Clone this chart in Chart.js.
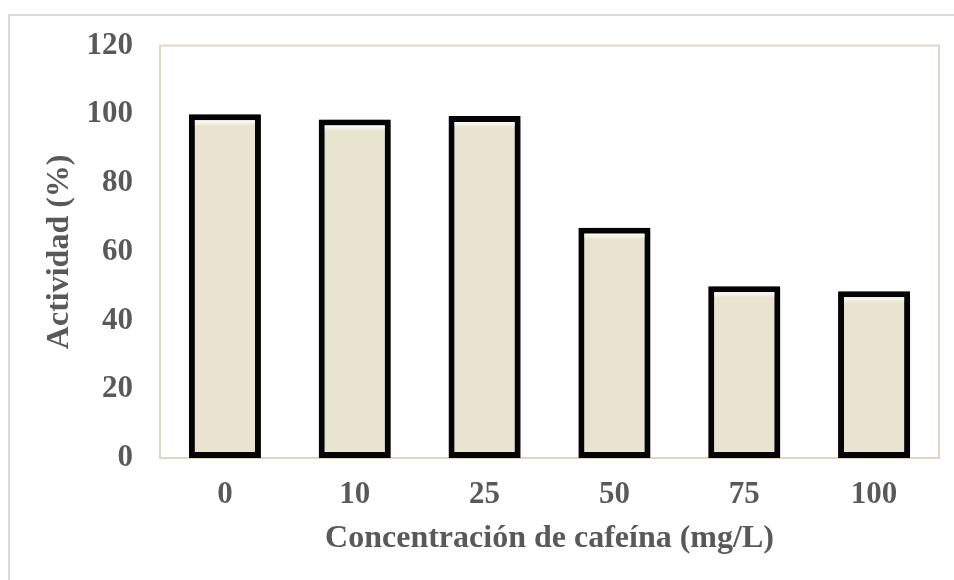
<!DOCTYPE html>
<html>
<head>
<meta charset="utf-8">
<title>Actividad vs cafeína</title>
<script src="https://cdn.jsdelivr.net/npm/chart.js@4/dist/chart.umd.min.js"></script>
<style>
html,body{margin:0;padding:0;background:#fff;overflow:hidden}
#wrap{position:relative;width:954px;height:580px}
</style>
</head>
<body>
<div id="wrap"><canvas id="cafChart" width="954" height="580"></canvas></div>
<script>

/* =========================
   DATA
========================= */

const concentraciones = ["0","10","25","50","75","100"]
const actividad = [100,98.5,99.5,67,50,48.5]
const yTicks = [0,20,40,60,80,100,120]

const txtColor = "#595959"
const fontFam = "'Liberation Serif','Times New Roman',serif"


/* =========================
   FRAMES (outer + plot area)
========================= */

const framePlugin = {

id:"frames",

beforeDraw(chart){
const ctx = chart.ctx
ctx.save()
ctx.fillStyle = "#fff"
ctx.fillRect(0,0,chart.width,chart.height)
ctx.strokeStyle = "#d9d9d9"
ctx.lineWidth = 2
ctx.strokeRect(9,15,1200,1200)
ctx.restore()
},

beforeDatasetsDraw(chart){
const a = chart.chartArea
const ctx = chart.ctx
ctx.save()
ctx.strokeStyle = "#ddd8c4"
ctx.lineWidth = 2
ctx.strokeRect(a.left,a.top,a.right-a.left,a.bottom-a.top)
ctx.restore()

/* soft shadow round the bars, undone after they are drawn */
ctx.save()
ctx.shadowColor = "rgba(0,0,0,0.35)"
ctx.shadowBlur = 6
ctx.shadowOffsetX = 2
ctx.shadowOffsetY = 1
},

afterDatasetsDraw(chart){
const ctx = chart.ctx
ctx.restore()

/* little bevel at the top of every bar */
chart.getDatasetMeta(0).data.forEach(bar=>{
const p = bar.getProps(["x","y","width"],true)
const l = p.x - p.width/2 + 6
const r = p.x + p.width/2 - 6
const g = ctx.createLinearGradient(0,p.y+6,0,p.y+12)
g.addColorStop(0,"rgba(255,255,255,0.9)")
g.addColorStop(1,"rgba(255,255,255,0)")
ctx.save()
ctx.fillStyle = g
ctx.fillRect(l,p.y+6,r-l,6)
ctx.restore()
})
}

}


/* =========================
   BAR CHART
========================= */

const cafChart = new Chart(document.getElementById("cafChart"),{

type:"bar",

data:{
labels:concentraciones,
datasets:[{
data:actividad,
backgroundColor:"#e8e4cf",
borderColor:"#050505",
borderWidth:6,
borderSkipped:false,
categoryPercentage:1,
barPercentage:0.555
}]
},

options:{
responsive:false,
animation:false,
layout:{padding:{top:45,right:15,left:0,bottom:0}},
plugins:{legend:{display:false},tooltip:{enabled:false}},
scales:{
x:{
grid:{display:false,drawTicks:false},
border:{display:false},
ticks:{color:txtColor,padding:18,font:{family:fontFam,size:31,weight:"bold"}},
title:{display:true,text:"Concentración de cafeína (mg/L)",color:txtColor,
padding:{top:0,bottom:22},font:{family:fontFam,size:32,weight:"bold"}},
afterFit(scale){ scale.height = 122 }
},
y:{
min:0,
max:120,
grid:{display:false,drawTicks:false},
border:{display:false},
afterBuildTicks(scale){ scale.ticks = yTicks.map(v=>({value:v})) },
ticks:{color:txtColor,padding:27,font:{family:fontFam,size:31,weight:"bold"}},
title:{display:true,text:"Actividad (%)",color:txtColor,
padding:{top:41,bottom:0},font:{family:fontFam,size:32,weight:"bold"}},
afterFit(scale){ scale.width = 160 }
}
}
},

plugins:[framePlugin]

})

</script>
</body>
</html>
